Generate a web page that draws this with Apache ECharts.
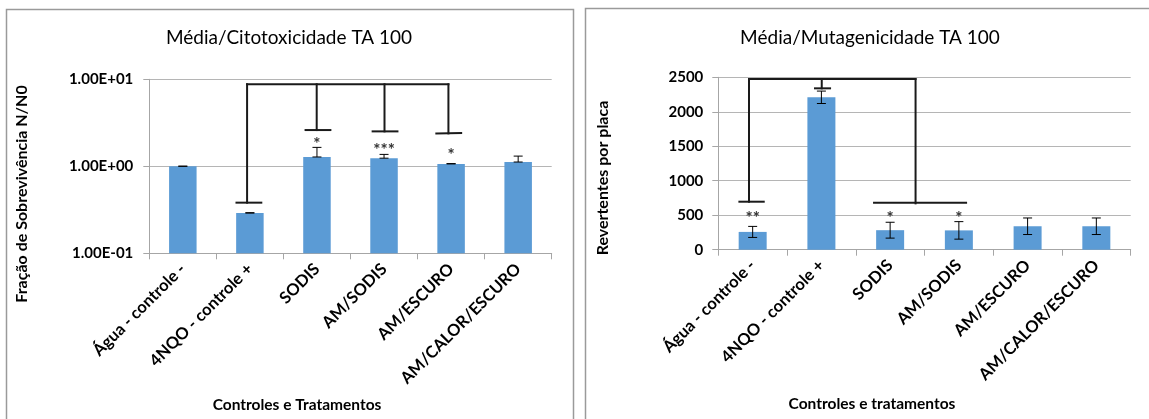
<!DOCTYPE html>
<html>
<head>
<meta charset="utf-8">
<script src="https://cdn.jsdelivr.net/npm/echarts@6/dist/echarts.min.js"></script>
<style>
html,body{margin:0;padding:0;background:#fff;}
#c{width:1149px;height:419px;}
</style>
</head>
<body>
<div id="c"></div>
<script>
// ---- data ----
const categories = ['Água - controle -', '4NQO - controle +', 'SODIS', 'AM/SODIS', 'AM/ESCURO', 'AM/CALOR/ESCURO'];

// Left chart: Média/Citotoxicidade TA 100 (log scale)
const citoMean = [1.0, 0.29, 1.28, 1.24, 1.066, 1.12];
const citoErrUp = [0.004, 0.003, 0.37, 0.13, 0.008, 0.19];
const citoTickValues = [0.1, 1, 10];
const citoTickLabels = ['1.00E-01', '1.00E+00', '1.00E+01'];
const citoStarText = ['', '', '*', '***', '*', ''];
const citoStarY = [null, null, 1.99, 1.71, 1.47, null];
// bracket segments [xIndex1, y1, xIndex2, y2]
const citoBracket = [
  [0.958, 8.77, 3.96, 8.77],
  [0.958, 8.77, 0.958, 0.382], [0.80, 0.382, 1.17, 0.382],
  [1.996, 8.77, 1.996, 2.61], [1.83, 2.61, 2.20, 2.61],
  [3.007, 8.77, 3.007, 2.52], [2.83, 2.52, 3.20, 2.52],
  [3.96, 8.77, 3.96, 2.39], [3.78, 2.39, 4.15, 2.41]
];

// Right chart: Média/Mutagenicidade TA 100
const mutaMean = [258, 2210, 283, 280, 340, 340];
const mutaErr = [80, 90, 115, 127, 120, 120];
const mutaTicks = [0, 500, 1000, 1500, 2000, 2500];
const mutaStarText = ['**', '', '*', '*', '', ''];
const mutaStarY = [517, null, 503, 503, null, null];
const mutaBracket = [
  [-0.053, 2474, 2.37, 2474],
  [-0.053, 2474, -0.053, 696], [-0.193, 696, 0.161, 696],
  [1.005, 2474, 1.005, 2340], [0.907, 2340, 1.126, 2340],
  [2.37, 2474, 2.37, 672], [1.766, 681, 3.105, 681]
];

// ---- styles ----
const FONT = 'Lato, "Open Sans", sans-serif';
const BAR = '#5b9bd5';
const AXIS = '#a6a6a6';
const GRID = '#b5b5b5';

const chart = echarts.init(document.getElementById('c'), null, {renderer: 'canvas'});

function logBarRender(means, baseValue, w) {
  return function (params, api) {
    const i = params.dataIndex;
    const top = api.coord([i, means[i]]);
    const base = api.coord([i, baseValue]);
    return {type: 'rect', shape: {x: top[0] - w / 2, y: top[1], width: w, height: base[1] - top[1]},
      style: {fill: BAR}};
  };
}

function errRender(means, errs, upOnly) {
  return function (params, api) {
    const i = params.dataIndex;
    const lo = upOnly ? means[i] : means[i] - errs[i];
    const hi = means[i] + errs[i];
    const p1 = api.coord([i, lo]);
    const p2 = api.coord([i, hi]);
    const hw = 4.5;
    const st = {stroke: '#000', lineWidth: 1};
    return {type: 'group', children: [
      {type: 'line', shape: {x1: p1[0], y1: p1[1], x2: p2[0], y2: p2[1]}, style: st},
      {type: 'line', shape: {x1: p1[0] - hw, y1: p1[1], x2: p1[0] + hw, y2: p1[1]}, style: st},
      {type: 'line', shape: {x1: p2[0] - hw, y1: p2[1], x2: p2[0] + hw, y2: p2[1]}, style: st}
    ]};
  };
}

function bracketRender(segs) {
  return function (params, api) {
    const s = segs[params.dataIndex];
    const band = api.size([1, 0])[0];
    const a = api.coord([0, s[1]]);
    const b = api.coord([0, s[3]]);
    const x1 = a[0] + s[0] * band, x2 = a[0] + s[2] * band;
    return {type: 'line', shape: {x1: x1, y1: a[1], x2: x2, y2: b[1]},
      style: {stroke: '#1a1a1a', lineWidth: 2, lineCap: 'square'}};
  };
}

function starRender(texts) {
  return function (params, api) {
    const p = api.coord([api.value(0), api.value(1)]);
    return {type: 'text', style: {text: texts[api.value(0)], x: p[0], y: p[1] + 4,
      textAlign: 'center', textVerticalAlign: 'middle', font: 'bold 17px ' + FONT, fill: '#333'}};
  };
}

const starData = (ys) => ys.map((v, i) => v == null ? null : [i, v]).filter(d => d);

const axisLabelStyle = {color: '#000', fontFamily: FONT, fontWeight: 'bold', fontSize: 15};

const option = {
  animation: false,
  backgroundColor: '#fff',
  grid: [
    {left: 149.3, width: 402.4, top: 79.3, height: 174, containLabel: false},
    {left: 718.3, width: 412.4, top: 77.3, height: 172.4, containLabel: false}
  ],
  xAxis: [0, 1].map(g => ({
    type: 'category', gridIndex: g, data: categories,
    axisLine: {show: true, lineStyle: {color: AXIS, width: 1}},
    axisTick: {show: true, length: 6, lineStyle: {color: AXIS}},
    axisLabel: Object.assign({}, axisLabelStyle, {rotate: 45, margin: 13, interval: 0, fontSize: 16.5}),
    splitLine: {show: false}
  })),
  yAxis: [
    {type: 'log', gridIndex: 0, logBase: 10, min: citoTickValues[0], max: citoTickValues[citoTickValues.length - 1],
      axisLine: {show: true, lineStyle: {color: AXIS}},
      axisTick: {show: true, length: 6, lineStyle: {color: AXIS}},
      minorTick: {show: false},
      axisLabel: Object.assign({margin: 16, formatter: (v, i) => citoTickLabels[i]}, axisLabelStyle),
      splitLine: {show: true, lineStyle: {color: GRID, width: 1}}},
    {type: 'value', gridIndex: 1, min: mutaTicks[0], max: mutaTicks[mutaTicks.length - 1], interval: 500,
      axisLine: {show: true, lineStyle: {color: AXIS}},
      axisTick: {show: true, length: 6, lineStyle: {color: AXIS}},
      axisLabel: Object.assign({margin: 15, formatter: v => String(v)}, axisLabelStyle),
      splitLine: {show: true, lineStyle: {color: GRID, width: 1}}}
  ],
  series: [
    {type: 'custom', xAxisIndex: 0, yAxisIndex: 0, data: citoMean.map((v, i) => [i, v]),
      renderItem: logBarRender(citoMean, citoTickValues[0], 27.5), z: 2},
    {type: 'custom', xAxisIndex: 0, yAxisIndex: 0, data: citoMean.map((v, i) => [i, v]),
      renderItem: errRender(citoMean, citoErrUp, true), z: 3},
    {type: 'custom', xAxisIndex: 0, yAxisIndex: 0, data: starData(citoStarY),
      renderItem: starRender(citoStarText), z: 4},
    {type: 'custom', xAxisIndex: 0, yAxisIndex: 0, data: citoBracket.map(s => [0, s[1]]),
      renderItem: bracketRender(citoBracket), z: 5, clip: false},

    {type: 'bar', xAxisIndex: 1, yAxisIndex: 1, data: mutaMean, barWidth: 28,
      itemStyle: {color: BAR}, z: 2},
    {type: 'custom', xAxisIndex: 1, yAxisIndex: 1, data: mutaMean.map((v, i) => [i, v]),
      renderItem: errRender(mutaMean, mutaErr, false), z: 3},
    {type: 'custom', xAxisIndex: 1, yAxisIndex: 1, data: starData(mutaStarY),
      renderItem: starRender(mutaStarText), z: 4},
    {type: 'custom', xAxisIndex: 1, yAxisIndex: 1, data: mutaBracket.map(s => [0, s[1]]),
      renderItem: bracketRender(mutaBracket), z: 5, clip: false}
  ],
  graphic: [
    {type: 'rect', z: -1, shape: {x: 6.5, y: 9.5, width: 567, height: 430},
      style: {fill: 'none', stroke: '#9a9a9a', lineWidth: 1.5}},
    {type: 'rect', z: -1, shape: {x: 585.5, y: 8.5, width: 600, height: 430},
      style: {fill: 'none', stroke: '#9a9a9a', lineWidth: 1.5}},
    {type: 'text', style: {text: 'Média/Citotoxicidade TA 100', x: 289, y: 38, textAlign: 'center',
      textVerticalAlign: 'middle', font: '19px ' + FONT, fill: '#000'}},
    {type: 'text', style: {text: 'Média/Mutagenicidade TA 100', x: 870, y: 38, textAlign: 'center',
      textVerticalAlign: 'middle', font: '19px ' + FONT, fill: '#000'}},
    {type: 'text', x: 22, y: 194, rotation: Math.PI / 2, style: {text: 'Fração de Sobrevivência N/N0',
      x: 0, y: 0, textAlign: 'center', textVerticalAlign: 'middle', font: 'bold 16px ' + FONT, fill: '#000'}},
    {type: 'text', x: 603, y: 178, rotation: Math.PI / 2, style: {text: 'Revertentes por placa',
      x: 0, y: 0, textAlign: 'center', textVerticalAlign: 'middle', font: 'bold 16px ' + FONT, fill: '#000'}},
    {type: 'text', style: {text: 'Controles e Tratamentos', x: 297, y: 405, textAlign: 'center',
      textVerticalAlign: 'middle', font: 'bold 15.5px ' + FONT, fill: '#000'}},
    {type: 'text', style: {text: 'Controles e tratamentos', x: 872, y: 404, textAlign: 'center',
      textVerticalAlign: 'middle', font: 'bold 15.5px ' + FONT, fill: '#000'}}
  ]
};
chart.setOption(option);
</script>
</body>
</html>
